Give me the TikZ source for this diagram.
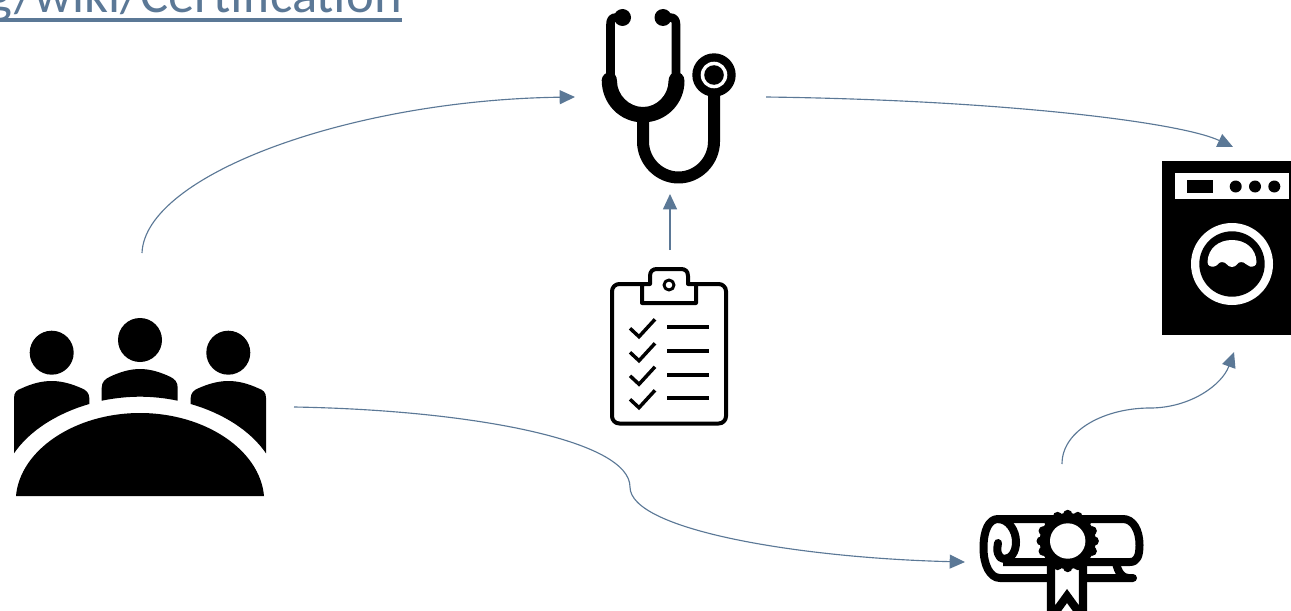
\documentclass[tikz,border=0pt]{standalone}
\usepackage{fontspec}
\setmainfont{Carlito}
\usetikzlibrary{arrows.meta}

\begin{document}
\begin{tikzpicture}[x=0.75pt,y=-0.75pt,
  link/.style={draw=linkblue, line width=0.85pt, -{Triangle[length=11.5pt,width=10.5pt,fill=linkblue]}},
  icon/.style={line width=#1, line join=round},
  hole/.style={fill=white, draw=none}]
\definecolor{linkblue}{HTML}{5B7896}
\useasboundingbox (0,0) rectangle (1291,610);
\node[anchor=base east, inner sep=0pt, text=linkblue, font=\fontsize{39.5}{48}\selectfont] (wiki) at (402,13) {g/wiki/Certification};
\fill[linkblue] (0,18.3) rectangle (402,21.7);
\coordinate (teamA) at (142,253);
\coordinate (teamB) at (294,407);
\coordinate (stethIn) at (575,97);
\coordinate (stethOut) at (766,97);
\coordinate (stethLow) at (670,194);
\coordinate (listTop) at (670,250);
\coordinate (washerA) at (1233,147);
\coordinate (washerB) at (1234,352);
\coordinate (scrollIn) at (965,562);
\coordinate (scrollOut) at (1062,464);
\coordinate (bendA) at (630,487);
\coordinate (bendB) at (1150,408);
\draw[link] (teamA) .. controls (145,175) and (350,100) .. (stethIn);
\draw[link] (stethOut) .. controls (1000,100) and (1180,122) .. (washerA);
\draw[link] (listTop) -- (stethLow);
\draw[link] (teamB) .. controls (470,410) and (630,440) .. (bendA) .. controls (630,530) and (800,558) .. (scrollIn);
\draw[link] (scrollOut) .. controls (1062,430) and (1105,408) .. (bendB) .. controls (1190,408) and (1222,385) .. (washerB);
% team
\fill (51.7,352.7) circle (22) (140,340) circle (22) (228.3,352.7) circle (22);
\fill (16,496) .. controls (20,450) and (75,413) .. (140,413) .. controls (205,413) and (260,450) .. (264,496) -- cycle;
\fill (14,453.3) -- (14,398) .. controls (14,392) and (17,390) .. (21.7,388.3) .. controls (31,384) and (41,381) .. (51.7,381) .. controls (62,381) and (72,384) .. (81.7,388.3) .. controls (86,390) and (89.3,393) .. (89.3,398) -- (89.3,404) .. controls (58,413) and (30,430) .. cycle;
\fill (266,453.3) -- (266,398) .. controls (266,392) and (263,390) .. (258.3,388.3) .. controls (249,384) and (239,381) .. (228.3,381) .. controls (218,381) and (208,384) .. (198.3,388.3) .. controls (194,390) and (190.7,393) .. (190.7,398) -- (190.7,404) .. controls (222,413) and (250,430) .. cycle;
\fill (101.7,400.7) -- (101.7,388) .. controls (101.7,382) and (105,379) .. (110,376.7) .. controls (120,372) and (130,369) .. (140,369) .. controls (150,369) and (160,372) .. (170,376.7) .. controls (175,379) and (177.7,382) .. (177.7,388) -- (177.7,400.7) .. controls (165,398) and (152,396.7) .. (140,396.7) .. controls (128,396.7) and (115,398) .. cycle;
% stethoscope
\fill (622.5,17.5) circle (8.5) (663,17.5) circle (8.5);
\draw[icon=6.4pt] (622,17.5) -- (616,17.5) .. controls (612,17.5) and (610.5,20) .. (610.5,24) -- (610.5,80);
\draw[icon=6.4pt] (664,17.5) -- (670,17.5) .. controls (674,17.5) and (676,20) .. (676,24) -- (676,80);
\fill (601.7,80) .. controls (601.7,76) and (606,72) .. (610,72) .. controls (614,72) and (617,76) .. (617,81) .. controls (617,95) and (629,107) .. (643,107) .. controls (657,107) and (668.5,95) .. (668.5,81) .. controls (668.5,76) and (672,72) .. (676,72) .. controls (680,72) and (684.5,75) .. (684.5,81) .. controls (684.5,104) and (666,122.4) .. (643,122.4) .. controls (620,122.4) and (601.7,104) .. (601.7,80) -- cycle;
\draw[icon=9pt] (643,115) -- (643,141.5) .. controls (643,161) and (659,177.5) .. (678.5,177.5) .. controls (698,177.5) and (714,161) .. (714,141.5) -- (714,90);
\fill (714,75) circle (21.7);
\fill[hole] (714,75) circle (13.3);
\fill (714,75) circle (9.8);
% checklist
\draw[icon=3pt, rounded corners=5.5] (612,284) rectangle (726,423.5);
\draw[icon=3pt, fill=white] (642,303) -- (642,284) -- (650,284) -- (650,276) .. controls (650,271) and (653,269) .. (657,269) -- (681,269) .. controls (685,269) and (688,271) .. (688,276) -- (688,284) -- (696,284) -- (696,303) -- cycle;
\draw[icon=2.2pt] (669,285) circle (5);
\foreach \yy/\ll in {0/326.7,24/350.7,47.5/375,71/397.7} {
  \draw[line width=2.6pt] (630,328.3+\yy) -- (639,336.7+\yy) -- (655,319.3+\yy);
  \draw[line width=3pt] (667,\ll) -- (709,\ll);
}
% diploma
\draw[icon=6pt] (998,519) -- (1123,519) .. controls (1133,519) and (1139.5,530) .. (1139.5,545) .. controls (1139.5,556) and (1137,562) .. (1130,562) -- (1003,562);
\draw[icon=6pt, line cap=round] (1133,578) -- (1000,578) .. controls (990,578) and (983.5,565) .. (983.5,548) .. controls (983.5,530) and (989,519) .. (998,519) .. controls (1008,519) and (1016,530) .. (1016,542) .. controls (1016,552) and (1011,559) .. (1004,559) .. controls (998,559) and (996,550) .. (998,543);
\draw[icon=6pt, line cap=round] (1116,563) .. controls (1118,572) and (1122,578) .. (1128,578);
\draw[line width=6.2pt, miter limit=10, fill=white] (1051,565) -- (1051,618) -- (1067,596) -- (1083,618) -- (1083,565);
\fill (1067.7,541) circle (28);
\foreach \aa in {0,22.5,...,337.5} \fill (1067.7,541) ++(\aa:26.5) circle (4.7);
\fill[hole] (1067.7,541) circle (17.7);
% washer
\fill (1162,161) rectangle (1291,335);
\fill[hole] (1175,173.3) rectangle (1289.3,199.3);
\fill (1187.3,180) rectangle (1213.3,192.7);
\fill (1235.7,186.5) circle (6) (1255,186.5) circle (6) (1274.3,186.5) circle (6);
\fill[hole] (1232,264) circle (41);
\fill (1232,264) circle (32.7);
\fill[hole] (1207.5,262) .. controls (1208,248) and (1219,240) .. (1232,240) .. controls (1245,240) and (1256,248) .. (1256.5,262) .. controls (1256.5,266) and (1253,267) .. (1250,266.5) .. controls (1246,266) and (1246,262) .. (1241,262) .. controls (1237,262) and (1237,267) .. (1232,267) .. controls (1227,267) and (1227,262) .. (1222,262) .. controls (1218,262) and (1218,266) .. (1214,266.5) .. controls (1211,267) and (1207.5,266) .. cycle;
\end{tikzpicture}
\end{document}
